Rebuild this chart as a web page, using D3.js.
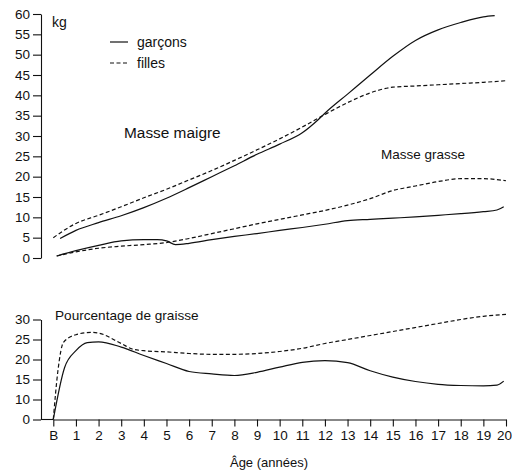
<!DOCTYPE html>
<html>
<head>
<meta charset="utf-8">
<script src="https://cdn.jsdelivr.net/npm/d3@7"></script>
<style>
  body { margin: 0; background: #fff; }
  text { font-family: "Liberation Sans", Arial, sans-serif; fill: #111; }
</style>
</head>
<body>
<svg width="512" height="472"></svg>
<script>
// ages: 0 = birth (B)
const ageTicks = d3.range(0, 21)
const ageLabels = ['B'].concat(d3.range(1, 21).map(String))
const kgTicks = d3.range(0, 61, 5)
const pctTicks = [0, 10, 15, 20, 25, 30] // axis is broken between 0 and 10

// Masse maigre (kg)
const leanBoys = [[0.3, 4.8], [1, 6.8], [2, 8.7], [3, 10.4], [4, 12.4], [5, 14.7], [6, 17.3], [7, 20.0], [8, 22.7], [9, 25.5], [10, 28.0], [11, 30.8], [11.7, 34.0], [12, 35.6], [13, 40.3], [14, 45.0], [15, 49.6], [16, 53.5], [17, 56.1], [18, 57.9], [19, 59.3], [19.5, 59.6]]
const leanGirls = [[0, 5.0], [1, 8.5], [2, 10.5], [3, 12.6], [4, 14.8], [5, 16.9], [6, 19.2], [7, 21.5], [8, 24.0], [9, 26.6], [10, 29.3], [11, 32.2], [12, 35.3], [13, 38.2], [14, 40.6], [15, 42.0], [16, 42.3], [17, 42.6], [18, 42.9], [19, 43.2], [20, 43.6]]

// Masse grasse (kg)
const fatBoys = [[0.15, 0.5], [1, 1.8], [2, 3.1], [3, 4.2], [4, 4.5], [4.6, 4.5], [5, 4.2], [5.4, 3.3], [6, 3.6], [7, 4.5], [8, 5.3], [9, 6.0], [10, 6.8], [11, 7.5], [12, 8.3], [13, 9.2], [14, 9.5], [15, 9.8], [16, 10.1], [17, 10.5], [18, 10.9], [19, 11.4], [19.6, 11.8], [19.9, 12.6]]
const fatGirls = [[0.15, 0.5], [1, 1.5], [2, 2.4], [3, 2.9], [4, 3.3], [5, 3.8], [6, 4.8], [7, 6.0], [8, 7.2], [9, 8.4], [10, 9.5], [11, 10.6], [12, 11.7], [13, 13.0], [14, 14.6], [15, 16.6], [16, 17.7], [17, 18.8], [18, 19.5], [19, 19.5], [20, 19.0]]

// Pourcentage de graisse (%)
const pctBoys = [[0, 0], [0.5, 18], [1, 22.2], [1.5, 24.2], [2, 24.4], [3, 23.1], [4, 21.0], [5, 19.0], [6, 17.0], [7, 16.4], [8, 16.0], [9, 16.8], [10, 18.1], [11, 19.3], [12, 19.7], [13, 19.2], [14, 17.2], [15, 15.6], [16, 14.5], [17, 13.8], [18, 13.5], [19, 13.4], [19.6, 13.6], [19.9, 14.6]]
const pctGirls = [[0, 0], [0.2, 17], [0.45, 24.3], [1, 26.2], [1.7, 26.8], [2, 26.6], [3, 24.0], [3.5, 22.6], [4, 22.2], [5, 21.9], [6, 21.5], [7, 21.3], [8, 21.3], [9, 21.5], [10, 22.0], [11, 22.8], [12, 24.0], [13, 25.0], [14, 26.0], [15, 27.0], [16, 28.0], [17, 29.0], [18, 30.0], [19, 30.8], [20, 31.3]]

const svg = d3.select('svg')
const axisX = 41

const x = d3.scaleLinear().domain([0, 20]).range([53.3, 506])
const yKg = d3.scaleLinear().domain([0, 60]).range([258, 14])
const yPct = d3.scaleLinear().domain([0, 10, 30]).range([419.5, 399.5, 319.5])

function styleAxis(g, size) {
    g.selectAll('path, line').attr('stroke', '#111').attr('stroke-width', 1.1)
    g.selectAll('text').style('font-size', size + 'px').attr('fill', '#111')
}

// top y axis
svg.append('g')
    .attr('transform', `translate(${axisX},0)`)
    .call(d3.axisLeft(yKg).tickValues(kgTicks).tickSize(8).tickSizeOuter(0).tickPadding(3))
    .call(g => styleAxis(g, 13.5))

// bottom y axis
svg.append('g')
    .attr('transform', `translate(${axisX},0)`)
    .call(d3.axisLeft(yPct).tickValues(pctTicks).tickSize(8).tickSizeOuter(0).tickPadding(3))
    .call(g => styleAxis(g, 13.5))

// x axis
svg.append('g')
    .attr('transform', `translate(0,${yPct(0)})`)
    .call(d3.axisBottom(x).tickValues(ageTicks).tickFormat((d, i) => ageLabels[i]).tickSize(7).tickSizeOuter(0).tickPadding(4))
    .call(g => styleAxis(g, 13.5))
    .call(g => g.selectAll('.tick:last-of-type text').attr('text-anchor', 'end').attr('dx', 5.5))

svg.append('line')
    .attr('x1', axisX).attr('x2', x(0))
    .attr('y1', yPct(0)).attr('y2', yPct(0))
    .attr('stroke', '#111').attr('stroke-width', 1.1)

const lineKg = d3.line().x(d => x(d[0])).y(d => yKg(d[1])).curve(d3.curveMonotoneX)
const linePct = d3.line().x(d => x(d[0])).y(d => yPct(d[1])).curve(d3.curveMonotoneX)

const series = [
    {data: leanBoys, line: lineKg, dash: null},
    {data: leanGirls, line: lineKg, dash: '4,2.5'},
    {data: fatBoys, line: lineKg, dash: null},
    {data: fatGirls, line: lineKg, dash: '4,2.5'},
    {data: pctBoys, line: linePct, dash: null},
    {data: pctGirls, line: linePct, dash: '4,2.5'}
]

svg.append('g')
    .selectAll('path')
    .data(series)
    .join('path')
    .attr('d', s => s.line(s.data))
    .attr('fill', 'none')
    .attr('stroke', '#111')
    .attr('stroke-width', 1.2)
    .attr('stroke-dasharray', s => s.dash)

// legend
const legend = [{label: 'garçons', dash: null, y: 42}, {label: 'filles', dash: '4,2.5', y: 63}]
legend.forEach(l => {
    svg.append('line')
        .attr('x1', 110).attr('x2', 128).attr('y1', l.y).attr('y2', l.y)
        .attr('stroke', '#111').attr('stroke-width', 1.2)
        .attr('stroke-dasharray', l.dash)
    svg.append('text')
        .attr('x', 137).attr('y', l.y + 5)
        .style('font-size', '14px')
        .text(l.label)
})

// labels
const labels = [
    {text: 'kg', x: 52, y: 27, size: 14},
    {text: 'Masse maigre', x: 124, y: 138, size: 15.4},
    {text: 'Masse grasse', x: 381, y: 159, size: 13.5},
    {text: 'Pourcentage de graisse', x: 55, y: 320, size: 13.6}
]
svg.selectAll('text.lbl')
    .data(labels)
    .join('text')
    .attr('class', 'lbl')
    .attr('x', d => d.x)
    .attr('y', d => d.y)
    .style('font-size', d => d.size + 'px')
    .text(d => d.text)

svg.append('text')
    .attr('x', 269).attr('y', 467)
    .attr('text-anchor', 'middle')
    .style('font-size', '13px')
    .text('Âge (années)')
</script>
</body>
</html>
